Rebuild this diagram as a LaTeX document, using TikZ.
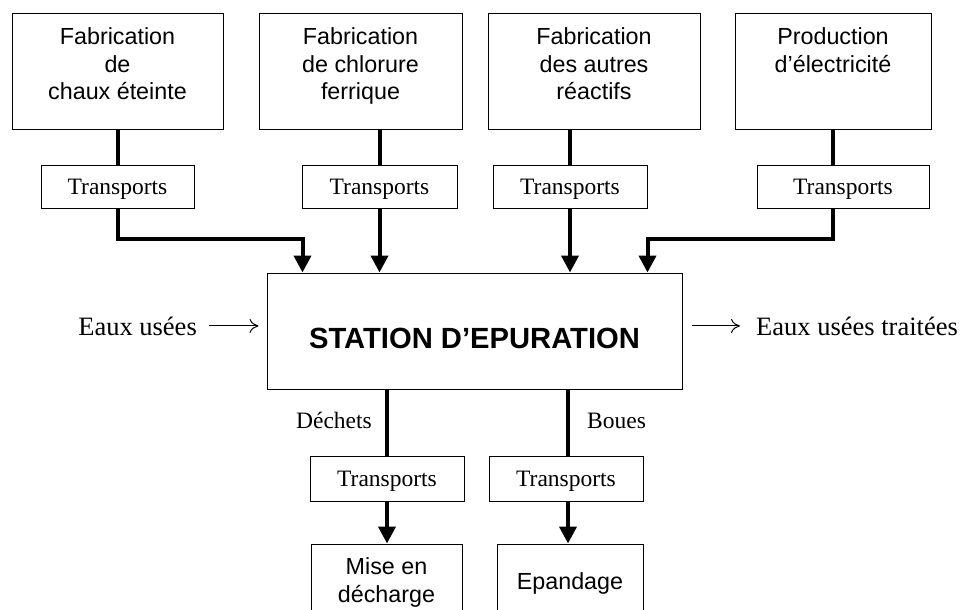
\documentclass[tikz,border=0pt]{standalone}
\usepackage{fontspec}
\setmainfont{Liberation Serif}
\newfontfamily\arialf{Liberation Sans}
\usetikzlibrary{arrows.meta,calc}
\begin{document}
\begin{tikzpicture}[x=1pt,y=-1pt,
  box/.style={draw, line width=1pt, inner sep=0pt},
  boxtext/.style={align=center, inner sep=0pt, font=\arialf\fontsize{23.3}{27.5}\selectfont},
  trbox/.style={draw, line width=1pt, inner sep=0pt, minimum height=43pt, text height=15pt, text depth=0pt, font=\fontsize{23.5}{28}\selectfont},
  flow/.style={line width=4pt, -{Triangle[width=17pt,length=17pt]}},
  link/.style={line width=4pt},
  thinarrow/.style={line width=1pt, -{To[length=9pt,width=14pt]}},
  lbl/.style={inner sep=0pt, font=\fontsize{23.5}{28}\selectfont},
  big/.style={inner sep=0pt, font=\fontsize{26.5}{30}\selectfont}
]
\useasboundingbox (0,0) rectangle (961,610);
\clip (0,0) rectangle (961,610);

% top boxes
\node[box, minimum width=211pt, minimum height=115pt,
  label={[boxtext,name=b1t,anchor=north,yshift=-14pt]north:Fabrication\\de\\chaux éteinte}] (b1) at (117.5,71.5) {};
\node[box, minimum width=203pt, minimum height=115pt,
  label={[boxtext,name=b2t,anchor=north,yshift=-14pt]north:Fabrication\\de chlorure\\ferrique}] (b2) at (360.5,71.5) {};
\node[box, minimum width=212pt, minimum height=115pt,
  label={[boxtext,name=b3t,anchor=north,yshift=-14pt]north:Fabrication\\des autres\\réactifs}] (b3) at (594,71.5) {};
\node[box, minimum width=196pt, minimum height=115pt,
  label={[boxtext,name=b4t,anchor=north,yshift=-14pt]north:Production\\d’électricité}] (b4) at (833,71.5) {};

% transports row
\node[trbox, minimum width=153pt] (t1) at (117.5,186.5) {Transports};
\node[trbox, minimum width=155pt] (t2) at (379.5,186.5) {Transports};
\node[trbox, minimum width=154pt] (t3) at (570,186.5) {Transports};
\node[trbox, minimum width=172pt] (t4) at (843,186.5) {Transports};

% station
\node[box, minimum width=415pt, minimum height=116pt, text height=34pt, text depth=0pt,
  font=\arialf\bfseries\fontsize{29.2}{34}\selectfont] (st) at (474.5,331) {STATION D’EPURATION};

% side labels
\node[big, anchor=base east] (in) at (197,335) {Eaux usées};
\node[big, anchor=base west] (out) at (756,335) {Eaux usées traitées};

% bottom
\node[trbox, minimum width=154pt, minimum height=45pt] (t5) at (387,478.5) {Transports};
\node[trbox, minimum width=154pt, minimum height=45pt] (t6) at (566,478.5) {Transports};
\node[lbl, anchor=base east] (dech) at (372,428) {Déchets};
\node[lbl, anchor=base west] (boues) at (587,428) {Boues};
\node[box, minimum width=151pt, minimum height=78pt,
  label={[boxtext,name=m1t,anchor=north,yshift=-14pt]north:Mise en\\décharge}] (m1) at (386.5,583) {};
\node[box, minimum width=146pt, minimum height=78pt,
  label={[boxtext,name=m2t,anchor=north,yshift=-29pt]north:Epandage}] (m2) at (570,583) {};

% connectors top
\coordinate (j1) at ($(st.north west)+(36,0)$);
\coordinate (j4) at ($(st.north west)+(381,0)$);
\draw[link] (b1.south) -- (t1.north);
\draw[link] (t2.north |- b2.south) -- (t2.north);
\draw[link] (t3.north |- b3.south) -- (t3.north);
\draw[link] (b4.south) -- (b4.south |- t4.north);
\draw[flow] (t1.south) -- ++(0,30) -| (j1);
\draw[flow] (t2.south) -- (t2.south |- st.north);
\draw[flow] (t3.south) -- (t3.south |- st.north);
\draw[flow] (b4.south |- t4.south) -- ++(0,30) -| (j4);

% thin arrows
\draw[thinarrow] ([xshift=12pt]in.east) -- ([xshift=-8pt]st.west |- in.east);
\draw[thinarrow] ([xshift=9pt]st.east |- out.west) -- ([xshift=-16pt]out.west);

% connectors bottom
\draw[link] (st.south -| t5.north) -- (t5.north);
\draw[link] ([xshift=2pt]t6.north |- st.south) -- ([xshift=2pt]t6.north);
\draw[flow] (t5.south) -- (t5.south |- m1.north);
\draw[flow] ([xshift=2pt]t6.south) -- ([xshift=2pt]t6.south |- m2.north);
\end{tikzpicture}
\end{document}
